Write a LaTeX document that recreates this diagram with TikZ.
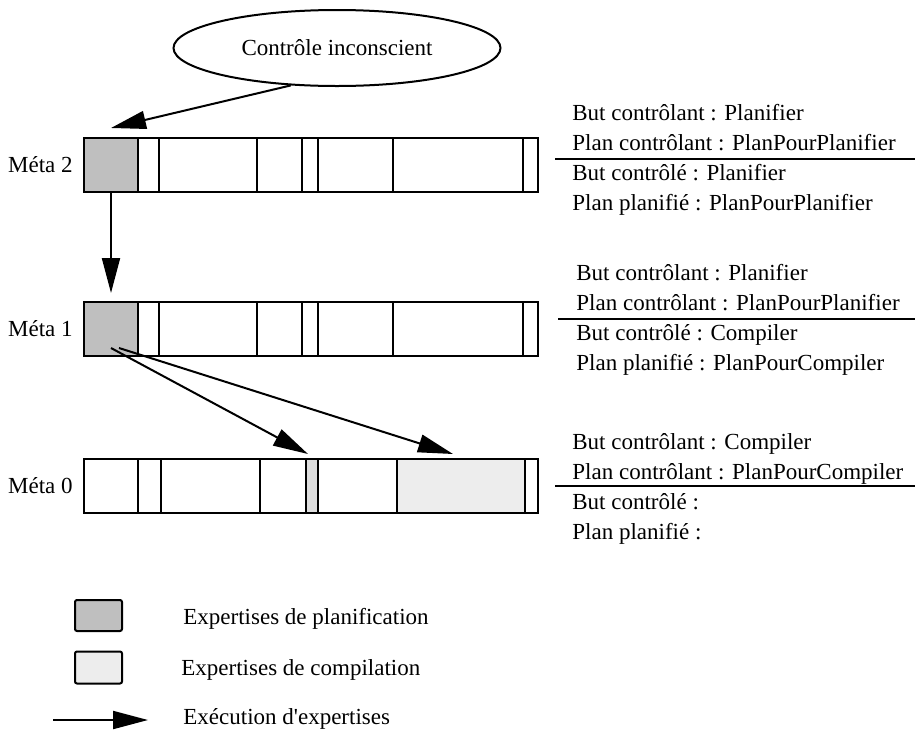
\documentclass[tikz,border=0pt]{standalone}
\usepackage{fontspec}
\setmainfont{Liberation Serif}
\usetikzlibrary{arrows.meta, shapes, positioning}

\definecolor{planif}{gray}{0.75}
\definecolor{compil}{gray}{0.93}
\definecolor{compilB}{gray}{0.87}

\tikzset{
  cell/.style={draw, line width=1pt, inner sep=0pt, outer sep=0pt, minimum height=27pt},
  fleche/.style={-{Triangle[length=17.5pt, width=9pt]}, line width=1pt},
  txt/.style={inner sep=0pt, anchor=base west},
}

\begin{document}
\begin{tikzpicture}[x=0.5pt, y=-0.5pt, font=\fontsize{11.5}{14}\selectfont]
    \useasboundingbox (0,0) rectangle (915,729);

    % nodes %
      \node[ellipse, draw, line width=1pt, minimum width=163.5pt, minimum height=38pt, inner sep=0pt] (ci) at (337,48) {Contrôle inconscient};

      % barres
      \node[cell, minimum width=227pt] (b2) at (311,165) {};
      \node[cell, minimum width=227pt] (b1) at (311,329) {};
      \node[cell, minimum width=227pt] (b0) at (311,486) {};
      \foreach \x in {138,159,257,302,318,393,523} {
        \draw[line width=1pt] (\x,138) -- (\x,192);
        \draw[line width=1pt] (\x,302) -- (\x,356);
      }
      \foreach \x in {138,161,260,306,318,397,525}
        \draw[line width=1pt] (\x,459) -- (\x,513);

      \node[cell, fill=planif, minimum width=27pt] (g2) at (111,165) {};
      \node[cell, fill=planif, minimum width=27pt] (g1) at (111,329) {};
      \node[cell, fill=compilB, minimum width=6pt] (s0) at (312,486) {};
      \node[cell, fill=compil, minimum width=64pt] (l0) at (461,486) {};

      \node[left=5.5pt of b2, inner sep=0pt] (m2) {Méta 2};
      \node[left=5.5pt of b1, inner sep=0pt] (m1) {Méta 1};
      \node[left=5.5pt of b0, inner sep=0pt] (m0) {Méta 0};

      % textes a droite
      \node[txt] (bc2) at (572,120.5) {But contrôlant : Planifier};
      \node[txt] (pc2) at ([yshift=-15pt]bc2.base west) {Plan contrôlant : PlanPourPlanifier};
      \node[txt] (bd2) at ([yshift=-15pt]pc2.base west) {But contrôlé : Planifier};
      \node[txt] (pp2) at ([yshift=-15pt]bd2.base west) {Plan planifié : PlanPourPlanifier};
      \draw[line width=1pt] (555,159) -- (915,159);

      \node[txt] (bc1) at (576,280.5) {But contrôlant : Planifier};
      \node[txt] (pc1) at ([yshift=-15pt]bc1.base west) {Plan contrôlant : PlanPourPlanifier};
      \node[txt] (bd1) at ([yshift=-15pt]pc1.base west) {But contrôlé : Compiler};
      \node[txt] (pp1) at ([yshift=-15pt]bd1.base west) {Plan planifié : PlanPourCompiler};
      \draw[line width=1pt] (558,319) -- (915,319);

      \node[txt] (bc0) at (572,449.5) {But contrôlant : Compiler};
      \node[txt] (pc0) at ([yshift=-15pt]bc0.base west) {Plan contrôlant : PlanPourCompiler};
      \node[txt] (bd0) at ([yshift=-15pt]pc0.base west) {But contrôlé :};
      \node[txt] (pp0) at ([yshift=-15pt]bd0.base west) {Plan planifié :};
      \draw[line width=1pt] (555,486) -- (915,486);

      % legende
      \node[cell, fill=planif, minimum width=23.5pt, minimum height=15.5pt, rounded corners=1pt] (lp) at (98.5,615.5) {};
      \node[cell, fill=compil, minimum width=23.5pt, minimum height=16pt, rounded corners=1pt] (lc) at (98.5,667.5) {};
      \node[txt] (tp) at (183,624) {Expertises de planification};
      \node[txt] (tc) at (181,675) {Expertises de compilation};
      \node[txt] (te) at (183,724) {Exécution d\textquotesingle expertises};
      \coordinate (la) at (53,720);
      \coordinate (lb) at (148,720);

      % edges %
      \coordinate (in2) at ([yshift=5pt]g2.north);
      \draw[fleche] (ci.-141) -- (in2);
      \draw[fleche] (g2.south) -- ([yshift=4.5pt]g1.north);
      \draw[fleche] ([yshift=4pt]g1.south) -- ([xshift=-2pt, yshift=2.5pt]s0.north);
      \draw[fleche] ([xshift=4pt, yshift=4pt]g1.south) -- ([xshift=-4pt, yshift=2.5pt]l0.north);
      \draw[fleche] (la) -- (lb);
    \end{tikzpicture}
\end{document}
